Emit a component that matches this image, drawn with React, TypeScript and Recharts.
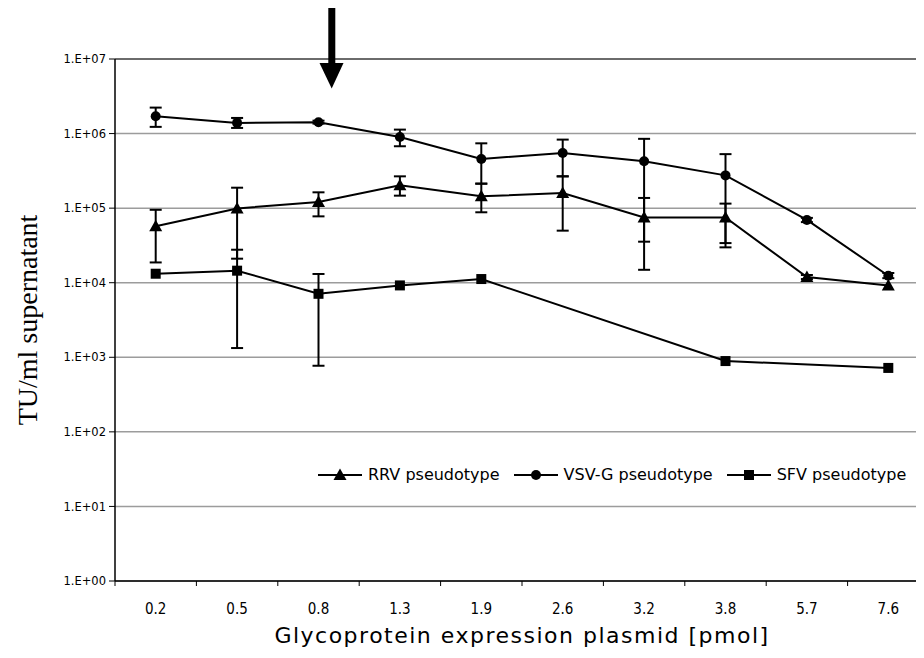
import {
  CartesianGrid,
  ComposedChart,
  ErrorBar,
  Label,
  Legend,
  Line,
  ReferenceLine,
  XAxis,
  YAxis,
} from "recharts";

// glycoprotein plasmid amounts (pmol), one category each
const doses = ["0.2", "0.5", "0.8", "1.3", "1.9", "2.6", "3.2", "3.8", "5.7", "7.6"];

// titers, TU/ml supernatant
const rrv = [5.7e4, 9.9e4, 1.21e5, 2.02e5, 1.44e5, 1.6e5, 7.5e4, 7.5e4, 1.19e4, 9.2e3];
const rrvLow = [1.87e4, 2.1e4, 7.76e4, 1.47e5, 8.8e4, 4.99e4, 1.49e4, 3.4e4, 1.12e4, null];
const rrvHigh = [9.5e4, 1.88e5, 1.63e5, 2.67e5, 2.13e5, 2.67e5, 1.37e5, 1.15e5, 1.27e4, null];

const vsv = [1.71e6, 1.39e6, 1.42e6, 9.0e5, 4.57e5, 5.5e5, 4.25e5, 2.75e5, 6.95e4, 1.24e4];
const vsvLow = [1.23e6, 1.19e6, 1.36e6, 6.76e5, 2.13e5, 2.67e5, 3.55e4, 2.98e4, 6.5e4, 1.15e4];
const vsvHigh = [2.23e6, 1.62e6, 1.49e6, 1.13e6, 7.4e5, 8.3e5, 8.5e5, 5.3e5, 7.4e4, 1.35e4];

const sfv = [1.32e4, 1.45e4, 7.1e3, 9.2e3, 1.12e4, null, null, 8.9e2, null, 7.2e2];
const sfvLow = [null, 1.33e3, 7.7e2, null, null, null, null, null, null, null];
const sfvHigh = [null, 2.77e4, 1.31e4, null, null, null, null, null, null, null];

const yTicks = [1, 10, 100, 1e3, 1e4, 1e5, 1e6, 1e7];
const legendOrder = ["rrv", "vsv", "sfv"];

function errPair(v: number | null, lo: number | null, hi: number | null) {
  if (v == null || lo == null || hi == null) return undefined;
  return [v - lo, hi - v];
}

const data = doses.map((dose, i) => ({
  dose,
  rrv: rrv[i],
  rrvErr: errPair(rrv[i], rrvLow[i], rrvHigh[i]),
  vsv: vsv[i],
  vsvErr: errPair(vsv[i], vsvLow[i], vsvHigh[i]),
  sfv: sfv[i],
  sfvErr: errPair(sfv[i], sfvLow[i], sfvHigh[i]),
}));

const sans = "'DejaVu Sans', sans-serif";

function expLabel(v: number) {
  const e = Math.round(Math.log10(v));
  return `1.E+${String(e).padStart(2, "0")}`;
}

function Marker({ kind, cx, cy }: { kind: string; cx: number; cy: number }) {
  if (kind === "rrv") {
    return (
      <polygon
        points={`${cx},${cy - 6.5} ${cx - 6.5},${cy + 5} ${cx + 6.5},${cy + 5}`}
        fill="#000"
      />
    );
  }
  if (kind === "vsv") return <circle cx={cx} cy={cy} r={5} fill="#000" />;
  return <rect x={cx - 5} y={cy - 5} width={10} height={10} fill="#000" />;
}

const dotFor = (kind: string) => (p: any) => {
  const k = `${kind}-${p.index}`;
  if (p.cx == null || p.cy == null || p.value == null) return <g key={k} />;
  return (
    <g key={k}>
      <Marker kind={kind} cx={p.cx} cy={p.cy} />
    </g>
  );
};

function DoseTick(props: any) {
  const { x, y, payload, width, visibleTicksCount, index } = props;
  const half = width && visibleTicksCount ? width / visibleTicksCount / 2 : 40.7;
  return (
    <g>
      {index === 0 && (
        <line x1={x - half} x2={x - half} y1={y} y2={y + 5} stroke="#000" />
      )}
      <line x1={x + half} x2={x + half} y1={y} y2={y + 5} stroke="#000" />
      <text
        x={x}
        y={y + 28}
        textAnchor="middle"
        dominantBaseline="central"
        fontFamily="'DejaVu Sans Condensed', 'DejaVu Sans', sans-serif"
        fontSize={15}
        fill="#000"
      >
        {payload.value}
      </text>
    </g>
  );
}

function LegendRow(props: any) {
  const items = [...(props.payload || [])].sort(
    (a: any, b: any) => legendOrder.indexOf(a.dataKey) - legendOrder.indexOf(b.dataKey)
  );
  return (
    <div style={{ display: "flex", alignItems: "center", gap: 14, fontFamily: sans, fontSize: 16, color: "#000" }}>
      {items.map((it: any) => (
        <div key={it.dataKey} style={{ display: "flex", alignItems: "center" }}>
          <svg width={44} height={14}>
            <line x1={0} x2={44} y1={7} y2={7} stroke="#000" strokeWidth={2} />
            <Marker kind={it.dataKey} cx={22} cy={7} />
          </svg>
          <span style={{ marginLeft: 6, lineHeight: "18px" }}>{it.value}</span>
        </div>
      ))}
    </div>
  );
}

export default function App() {
  return (
    <div style={{ position: "relative", width: 916, height: 650, overflow: "hidden", background: "#fff" }}>
      <ComposedChart
        width={940}
        height={650}
        data={data}
        margin={{ top: 51, right: 19, bottom: 0, left: 0 }}
      >
        <CartesianGrid vertical={false} stroke="#9c9c9c" strokeWidth={1.5} />
        <ReferenceLine y={1e7} stroke="#222" strokeWidth={1} />
        <XAxis
          dataKey="dose"
          type="category"
          scale="band"
          height={77}
          tickLine={false}
          tickSize={0}
          tickMargin={0}
          interval={0}
          axisLine={{ stroke: "#000", strokeWidth: 1.5 }}
          tick={<DoseTick />}
        >
          <Label
            value="Glycoprotein expression plasmid [pmol]"
            position="insideBottom"
            offset={15}
            fill="#000"
            style={{ fontFamily: sans, fontSize: 22, letterSpacing: 1.5 }}
          />
        </XAxis>
        <YAxis
          scale="log"
          domain={[1, 1e7]}
          ticks={yTicks}
          interval={0}
          allowDataOverflow
          width={107}
          tickSize={6}
          tickMargin={3}
          tickFormatter={expLabel}
          tick={{ fill: "#000", fontFamily: sans, fontSize: 11.5 }}
          tickLine={{ stroke: "#000" }}
          axisLine={{ stroke: "#000", strokeWidth: 1.5 }}
        >
          <Label
            value="TU/ml supernatant"
            angle={-90}
            position="insideLeft"
            offset={19}
            fill="#000"
            style={{ textAnchor: "middle", fontFamily: "'Liberation Serif', serif", fontSize: 28 }}
          />
        </YAxis>
        <Legend
          layout="horizontal"
          verticalAlign="middle"
          align="center"
          wrapperStyle={{ left: 310, top: 458, width: "auto" }}
          content={<LegendRow />}
        />
        <Line
          dataKey="rrv"
          name="RRV pseudotype"
          stroke="#000"
          strokeWidth={2}
          dot={dotFor("rrv")}
          activeDot={false}
          isAnimationActive={false}
        >
          <ErrorBar dataKey="rrvErr" width={6} stroke="#000" strokeWidth={2} />
        </Line>
        <Line
          dataKey="vsv"
          name="VSV-G pseudotype"
          stroke="#000"
          strokeWidth={2}
          dot={dotFor("vsv")}
          activeDot={false}
          isAnimationActive={false}
        >
          <ErrorBar dataKey="vsvErr" width={6} stroke="#000" strokeWidth={2} />
        </Line>
        <Line
          dataKey="sfv"
          name="SFV pseudotype"
          stroke="#000"
          strokeWidth={2}
          connectNulls
          dot={dotFor("sfv")}
          activeDot={false}
          isAnimationActive={false}
        >
          <ErrorBar dataKey="sfvErr" width={6} stroke="#000" strokeWidth={2} />
        </Line>
      </ComposedChart>
      {/* arrow marking the 0.8 pmol condition */}
      <svg
        width={916}
        height={100}
        style={{ position: "absolute", left: 0, top: 0, pointerEvents: "none" }}
      >
        <rect x={320.3} y={0} width={7} height={57} fill="#000" />
        <polygon points="311.5,55 335.5,55 323.7,80.5" fill="#000" />
      </svg>
    </div>
  );
}
